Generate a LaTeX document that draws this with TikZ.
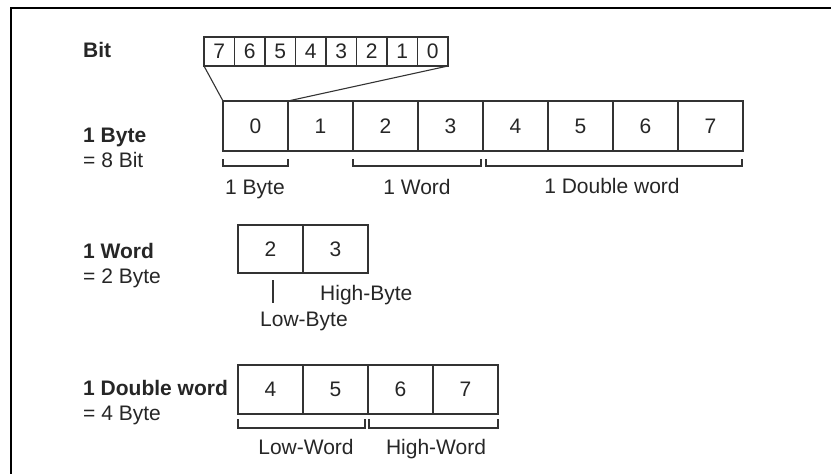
\documentclass[tikz,border=0pt]{standalone}
\usepackage{fontspec}
\setmainfont{Liberation Sans}
\begin{document}
\begin{tikzpicture}[x=1pt,y=-1pt,
  every node/.style={font=\fontsize{21}{24}\selectfont, text=black!85},
  cell/.style={draw=black!80, line width=1.1pt, minimum width=65pt, minimum height=50pt, inner sep=0pt, outer sep=0pt},
  bitcell/.style={draw=black!80, line width=1.1pt, minimum width=30.5pt, minimum height=29pt, inner sep=0pt, outer sep=0pt},
  brk/.style={draw=black!80, line width=1.1pt},
  lbl/.style={anchor=base west, inner sep=0pt},
  clbl/.style={anchor=base, inner sep=0pt},
  frame/.style={draw=black, line width=1.6pt}]
\useasboundingbox (0,0) rectangle (831,474);
% frame
\coordinate (fa) at (11,474);
\coordinate (fb) at (11,8);
\coordinate (fc) at (831,8);
\draw[frame] (fa) -- (fb) -- (fc);

% left labels
\node[lbl, font=\fontsize{21}{24}\selectfont\bfseries] (tbit) at (83,57) {Bit};
\node[lbl, font=\fontsize{21}{24}\selectfont\bfseries] (tbyte) at (83,142) {1 Byte};
\node[lbl] (tbyte2) at (83,167) {= 8 Bit};
\node[lbl, font=\fontsize{21}{24}\selectfont\bfseries] (tword) at (83,258) {1 Word};
\node[lbl] (tword2) at (83,283) {= 2 Byte};
\node[lbl, font=\fontsize{21}{24}\selectfont\bfseries] (tdw) at (83,395) {1 Double word};
\node[lbl] (tdw2) at (83,420) {= 4 Byte};

% bit row
\foreach \d [count=\j from 0] in {7,6,5,4,3,2,1,0}
  \node[bitcell] (bit\d) at (204+15.25+30.5*\j,51.5) {\d};

% byte row
\foreach \i in {0,...,7}
  \node[cell] (b\i) at (223+32.5+65*\i,126) {\i};

\draw[brk] (bit7.south west) -- (b0.north west);
\draw[brk] (bit0.south east) -- (b0.north east);

% brackets under byte row
\draw[brk] ([yshift=-8pt]b0.south west) -- ([yshift=-15pt]b0.south west) -- ([yshift=-15pt]b0.south east) -- ([yshift=-8pt]b0.south east);
\draw[brk] ([yshift=-8pt]b2.south west) -- ([yshift=-15pt]b2.south west) -- ([xshift=-2pt,yshift=-15pt]b3.south east) -- ([xshift=-2pt,yshift=-8pt]b3.south east);
\draw[brk] ([xshift=3pt,yshift=-8pt]b4.south west) -- ([xshift=3pt,yshift=-15pt]b4.south west) -- ([xshift=-1pt,yshift=-15pt]b7.south east) -- ([xshift=-1pt,yshift=-8pt]b7.south east);
\node[clbl] (l1) at (255,194) {1 Byte};
\node[clbl] (l2) at (417,194) {1 Word};
\node[clbl] (l3) at (612,193) {1 Double word};

% word row
\node[cell, minimum height=48pt] (w2) at (238+32.5,249) {2};
\node[cell, minimum height=48pt] (w3) at (238+97.5,249) {3};
\coordinate (wt1) at (273,280);
\coordinate (wt2) at (273,303);
\draw[brk] (wt1) -- (wt2);
\node[lbl] (hb) at (320,300) {High-Byte};
\node[lbl] (lb) at (260,326) {Low-Byte};

% double word row
\foreach \i [count=\k from 0] in {4,5,6,7}
  \node[cell, minimum height=49pt] (d\i) at (238+32.5+65*\k,389.5) {\i};
\draw[brk] ([yshift=-5pt]d4.south west) -- ([yshift=-14pt]d4.south west) -- ([xshift=-3pt,yshift=-14pt]d5.south east) -- ([xshift=-3pt,yshift=-5pt]d5.south east);
\draw[brk] ([xshift=1pt,yshift=-5pt]d6.south west) -- ([xshift=1pt,yshift=-14pt]d6.south west) -- ([yshift=-14pt]d7.south east) -- ([yshift=-5pt]d7.south east);
\node[clbl] (lw) at (306,454) {Low-Word};
\node[clbl] (hw) at (436,454) {High-Word};
\end{tikzpicture}
\end{document}
